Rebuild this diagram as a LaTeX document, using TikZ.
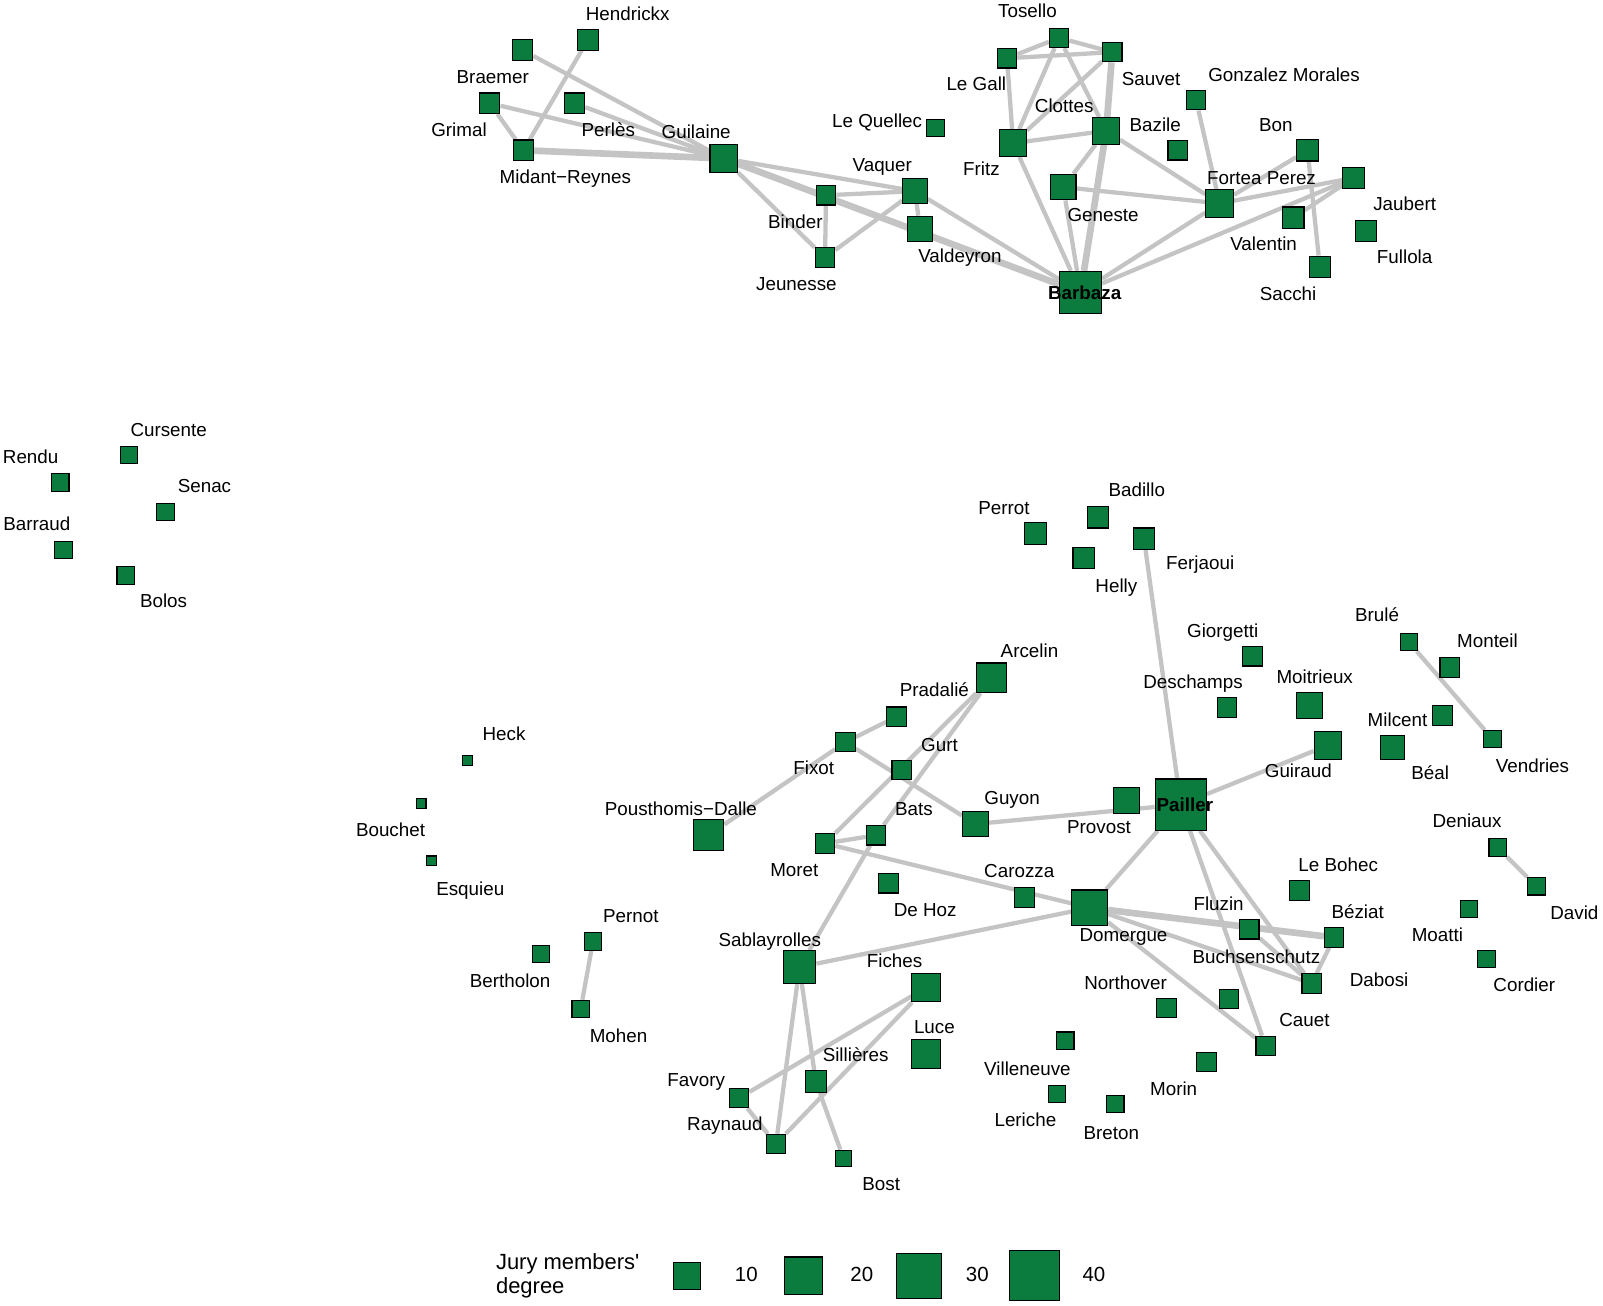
\documentclass[tikz,border=0pt]{standalone}
\usepackage{fontspec}
\setmainfont{Liberation Sans}
\usetikzlibrary{backgrounds}

\definecolor{jurygreen}{HTML}{0B7B3E}
\definecolor{linkgrey}{HTML}{C4C4C4}

\tikzset{
  juror/.style={draw=black, line width=1.1pt, fill=jurygreen, rectangle, inner sep=0pt},
  jlabel/.style={font=\fontsize{18.4}{22}\selectfont, inner sep=0pt, text height=13.2pt, text depth=0pt},
  link/.style={draw=linkgrey, line width=4.2pt},
  heavylink/.style={draw=linkgrey, line width=6.5pt}
}

% name, x, y, size, label, label x, label y
\newcommand{\juror}[7]{%
  \node[juror, minimum size=#4pt] (#1) at (#2,#3) {};
  \node[jlabel] (#1-l) at (#6,#7) {#5};}

\begin{document}
\begin{tikzpicture}[x=1pt, y=-1pt]
\useasboundingbox (0,0) rectangle (1568,1277);

% upper component
\juror{braemer}{511}{49}{20}{Braemer}{482}{75}
\juror{hendrickx}{575}{39}{20}{Hendrickx}{614}{13}
\juror{grimal}{479}{101}{20}{Grimal}{449}{127}
\juror{perles}{562}{101}{20}{Perlès}{595}{127}
\juror{midant}{512}{147}{20}{Midant−Reynes}{553}{173}
\juror{guilaine}{708}{155}{27}{Guilaine}{681}{129}
\juror{lequellec}{915}{125}{17}{Le Quellec}{858}{118}
\juror{vaquer}{895}{187}{24}{Vaquer}{863}{161}
\juror{binder}{808}{191}{19}{Binder}{778}{217}
\juror{valdeyron}{900}{224}{25}{Valdeyron}{939}{250}
\juror{jeunesse}{807}{252}{19}{Jeunesse}{779}{278}
\juror{tosello}{1036}{37}{19}{Tosello}{1005}{11}
\juror{legall}{985}{57}{19}{Le Gall}{955}{82}
\juror{sauvet}{1088}{51}{19}{Sauvet}{1126}{77}
\juror{clottes}{1082}{128}{26}{Clottes}{1041}{103}
\juror{fritz}{991}{140}{26}{Fritz}{960}{165}
\juror{bazile}{1152}{147}{19}{Bazile}{1130}{122}
\juror{gonzalez}{1170}{98}{19}{Gonzalez Morales}{1256}{73}
\juror{geneste}{1040}{183}{25}{Geneste}{1079}{210}
\juror{fortea}{1193}{199}{27}{Fortea Perez}{1234}{174}
\juror{bon}{1279}{147}{21}{Bon}{1248}{122}
\juror{jaubert}{1324}{174}{21}{Jaubert}{1374}{199}
\juror{valentin}{1265}{213}{21}{Valentin}{1236}{238}
\juror{fullola}{1336}{226}{21}{Fullola}{1374}{251}
\juror{sacchi}{1291}{261}{21}{Sacchi}{1260}{287}
\node[juror, minimum size=41pt] (barbaza) at (1057,286) {};
\node[jlabel, font=\fontsize{18.4}{22}\selectfont\bfseries] (barbaza-l) at (1061,286) {Barbaza};

% isolated jurors, left
\juror{cursente}{126}{445}{17}{Cursente}{165}{420}
\juror{rendu}{59}{472}{17}{Rendu}{30}{447}
\juror{senac}{162}{501}{17}{Senac}{200}{475}
\juror{barraud}{62}{538}{17}{Barraud}{36}{512}
\juror{bolos}{123}{563}{17}{Bolos}{160}{588}
\juror{heck}{457}{744}{9.5}{Heck}{493}{718}
\juror{bouchet}{412}{786}{9.5}{Bouchet}{382}{812}
\juror{esquieu}{422}{842}{9.5}{Esquieu}{460}{869}
\juror{pernot}{580}{921}{17}{Pernot}{617}{896}
\juror{bertholon}{529}{933}{17}{Bertholon}{499}{959}
\juror{mohen}{568}{987}{17}{Mohen}{605}{1013}

% lower component
\juror{perrot}{1013}{522}{21}{Perrot}{982}{497}
\juror{badillo}{1074}{506}{21}{Badillo}{1112}{479}
\juror{helly}{1060}{546}{21}{Helly}{1092}{573}
\juror{ferjaoui}{1119}{527}{21}{Ferjaoui}{1174}{550}
\juror{giorgetti}{1225}{642}{19}{Giorgetti}{1196}{617}
\juror{deschamps}{1200}{692}{19}{Deschamps}{1167}{667}
\juror{moitrieux}{1281}{690}{25}{Moitrieux}{1286}{662}
\juror{guiraud}{1299}{729}{27}{Guiraud}{1270}{754}
\juror{brule}{1378}{628}{17}{Brulé}{1347}{601}
\juror{monteil}{1418}{653}{19}{Monteil}{1455}{627}
\juror{milcent}{1411}{700}{19}{Milcent}{1367}{704}
\juror{beal}{1362}{731}{23}{Béal}{1399}{756}
\juror{vendries}{1460}{723}{17}{Vendries}{1499}{749}
\juror{provost}{1102}{783}{25}{Provost}{1075}{809}
\node[juror, minimum size=50pt] (pailler) at (1155,787) {};
\node[jlabel, font=\fontsize{18.4}{22}\selectfont\bfseries] (pailler-l) at (1159,787) {Pailler};
\juror{deniaux}{1465}{829}{17}{Deniaux}{1435}{803}
\juror{david}{1503}{867}{17}{David}{1540}{893}
\juror{moatti}{1437}{889}{17}{Moatti}{1406}{914}
\juror{cordier}{1454}{938}{17}{Cordier}{1491}{963}
\juror{lebohec}{1271}{871}{19}{Le Bohec}{1309}{846}
\juror{fluzin}{1222}{909}{19}{Fluzin}{1192}{884}
\juror{beziat}{1305}{917}{19}{Béziat}{1328}{892}
\juror{buchsenschutz}{1202}{977}{19}{Buchsenschutz}{1229}{936}
\juror{dabosi}{1283}{962}{19}{Dabosi}{1349}{958}
\juror{domergue}{1066}{888}{35}{Domergue}{1099}{914}
\juror{northover}{1141}{986}{19}{Northover}{1101}{961}
\juror{cauet}{1238}{1023}{19}{Cauet}{1276}{997}
\juror{villeneuve}{1042}{1018}{17}{Villeneuve}{1005}{1045}
\juror{morin}{1180}{1039}{19}{Morin}{1148}{1065}
\juror{leriche}{1034}{1070}{17}{Leriche}{1003}{1095}
\juror{breton}{1091}{1080}{17}{Breton}{1087}{1108}
\juror{carozza}{1002}{878}{19}{Carozza}{997}{852}
\juror{dehoz}{869}{864}{19}{De Hoz}{905}{890}
\juror{moret}{807}{825}{19}{Moret}{777}{851}
\juror{bats}{857}{817}{19}{Bats}{894}{791}
\juror{guyon}{954}{806}{25}{Guyon}{990}{780}
\juror{gurt}{882}{753}{19}{Gurt}{919}{728}
\juror{fixot}{827}{726}{19}{Fixot}{796}{751}
\juror{pradalie}{877}{701}{19}{Pradalié}{914}{675}
\juror{arcelin}{970}{663}{29}{Arcelin}{1007}{637}
\juror{pousthomis}{693}{817}{30}{Pousthomis−Dalle}{666}{791}
\juror{sablayrolles}{782}{946}{32}{Sablayrolles}{753}{919}
\juror{fiches}{906}{966}{28}{Fiches}{875}{940}
\juror{luce}{906}{1031}{28}{Luce}{914}{1004}
\juror{sillieres}{798}{1058}{21}{Sillières}{837}{1032}
\juror{favory}{723}{1074}{19}{Favory}{681}{1056}
\juror{raynaud}{759}{1119}{19}{Raynaud}{709}{1099}
\juror{bost}{825}{1133}{16}{Bost}{862}{1158}

% co-membership links
\begin{scope}[on background layer]
\foreach \a/\b in {braemer/guilaine, hendrickx/midant, grimal/midant, grimal/guilaine,
    perles/guilaine, guilaine/vaquer, guilaine/jeunesse, binder/jeunesse, binder/vaquer,
    jeunesse/vaquer, vaquer/valdeyron, vaquer/barbaza, tosello/legall, tosello/sauvet,
    legall/sauvet, legall/fritz, tosello/fritz, tosello/clottes, sauvet/fritz,
    fritz/clottes, fritz/barbaza, clottes/geneste, geneste/barbaza, clottes/fortea,
    geneste/fortea, gonzalez/fortea, fortea/bon, fortea/jaubert, barbaza/fortea,
    barbaza/jaubert, valentin/jaubert, bon/sacchi, guyon/pailler,
    ferjaoui/pailler, pailler/guiraud, pailler/domergue, pailler/cauet, pailler/dabosi,
    brule/vendries, deniaux/david, domergue/dabosi, fluzin/dabosi, beziat/dabosi,
    domergue/cauet, fixot/pradalie, fixot/pousthomis, fixot/guyon, arcelin/moret,
    arcelin/bats, bats/sablayrolles, moret/bats, moret/domergue, sablayrolles/domergue,
    sablayrolles/raynaud, sablayrolles/sillieres, sillieres/bost, fiches/favory,
    fiches/raynaud, favory/raynaud, pernot/mohen}
  \draw[link] (\a) -- (\b);
\foreach \a/\b in {midant/guilaine, guilaine/barbaza, sauvet/clottes, clottes/barbaza,
    domergue/beziat}
  \draw[heavylink] (\a) -- (\b);
\end{scope}

% legend
\node[anchor=west, align=left, inner sep=0pt, font=\fontsize{21.5}{23.5}\selectfont] (legend-l) at (485,1248) {Jury members\textquotesingle\\degree};
\node[juror, minimum size=27pt] (leg10) at (672,1248) {};
\node[juror, minimum size=37pt] (leg20) at (786,1248) {};
\node[juror, minimum size=44pt] (leg30) at (899,1248) {};
\node[juror, minimum size=49pt] (leg40) at (1012,1248) {};
\node[jlabel, font=\fontsize{20}{22}\selectfont] (leg10-l) at (730,1247) {10};
\node[jlabel, font=\fontsize{20}{22}\selectfont] (leg20-l) at (843,1247) {20};
\node[jlabel, font=\fontsize{20}{22}\selectfont] (leg30-l) at (956,1247) {30};
\node[jlabel, font=\fontsize{20}{22}\selectfont] (leg40-l) at (1070,1247) {40};
\end{tikzpicture}
\end{document}
